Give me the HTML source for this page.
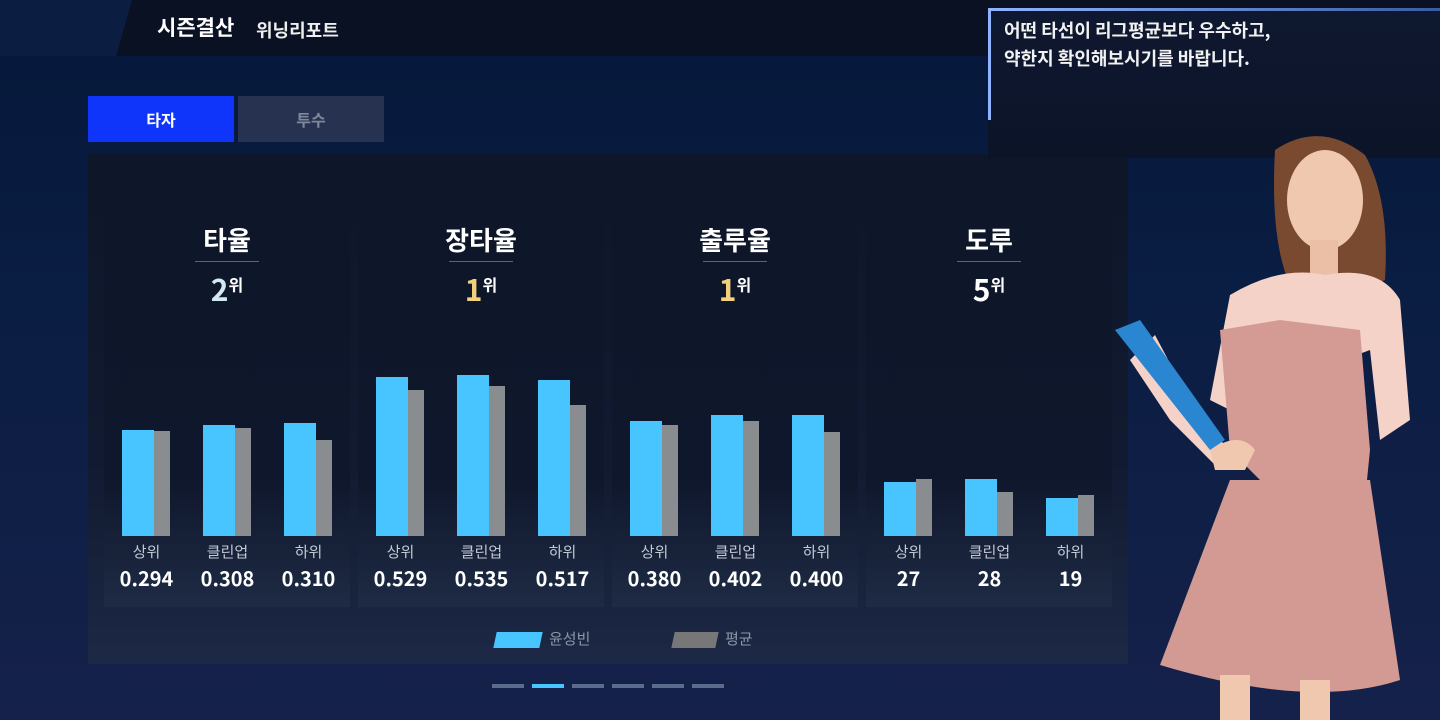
<!DOCTYPE html>
<html><head><meta charset="utf-8"><style>
*{margin:0;padding:0;box-sizing:border-box}
body{width:1440px;height:720px;overflow:hidden;position:relative;font-family:"Noto Sans CJK KR","Liberation Sans",sans-serif;line-height:1.2;background:linear-gradient(#05183a 0%,#0a1d42 40%,#15214a 100%);color:#fff}
.abs{position:absolute}
.panel{position:absolute;top:180px;width:246px;height:427px;background:linear-gradient(#0e1629 0%,#0f172c 70%,#1e2b44 100%)}
.t{position:absolute;left:0;width:246px;text-align:center}
.bar{position:absolute;bottom:71px}
.lab{position:absolute;top:363px;width:81px;text-align:center;font-size:15px;color:#c3cad6}
.val{position:absolute;top:386px;width:81px;text-align:center;font-size:20px;font-weight:bold;color:#fff}
</style></head><body>
<div class="abs" style="left:0;top:0;width:1440px;height:56px;background:#0a1122"></div>
<div class="abs" style="left:0;top:0;width:132px;height:56px;background:#0c1d42;clip-path:polygon(0 0,100% 0,88% 100%,0 100%)"></div>
<div class="abs" style="left:157px;top:15px;font-size:21px;font-weight:bold">시즌결산</div>
<div class="abs" style="left:256px;top:20px;font-size:18px;font-weight:bold;color:#eee">위닝리포트</div>
<div class="abs" style="left:88px;top:96px;width:146px;height:46px;background:#0f35fa;text-align:center;line-height:46px;font-size:16px;font-weight:bold">타자</div>
<div class="abs" style="left:238px;top:96px;width:146px;height:46px;background:#26324f;text-align:center;line-height:46px;font-size:16px;font-weight:bold;color:#7f879a">투수</div>
<div class="abs" style="left:88px;top:154px;width:1040px;height:510px;background:linear-gradient(#0e1629 0%,#111a30 60%,#1c2845 100%)"></div>

<div class="abs" style="left:988px;top:8px;width:452px;height:150px;background:linear-gradient(#0e1830,#0c1428);border-top:3px solid #6c94d8;border-left:3px solid #6c94d8;border-image:linear-gradient(90deg,#8fb3ff,#3a5ca0) 1"></div>
<div class="abs" style="left:988px;top:120px;width:3px;height:40px;background:#0c1428"></div>
<div class="abs" style="left:1004px;top:16px;font-size:18px;font-weight:bold;line-height:28px;color:#f2f2f2">어떤 타선이 리그평균보다 우수하고,<br>약한지 확인해보시기를 바랍니다.</div>

<div class="panel" style="left:104px">
<div class="t" style="top:44px;font-size:26px;font-weight:bold">타율</div>
<div class="abs" style="left:91px;top:81px;width:64px;height:1px;background:#5a6478"></div>
<div class="t" style="top:90px;font-size:30px;font-weight:bold;color:#d2e9f2">2<span style="font-size:16px;vertical-align:10px;color:#fff">위</span></div>
<div class="bar" style="left:18px;width:32px;height:106px;background:#48c4ff"></div><div class="bar" style="left:50px;width:16px;height:105px;background:#8a8d90"></div>
<div class="bar" style="left:99px;width:32px;height:111px;background:#48c4ff"></div><div class="bar" style="left:131px;width:16px;height:108px;background:#8a8d90"></div>
<div class="bar" style="left:180px;width:32px;height:113px;background:#48c4ff"></div><div class="bar" style="left:212px;width:16px;height:96px;background:#8a8d90"></div>
<div class="lab" style="left:2px">상위</div><div class="lab" style="left:83px">클린업</div><div class="lab" style="left:164px">하위</div>
<div class="val" style="left:2px">0.294</div><div class="val" style="left:83px">0.308</div><div class="val" style="left:164px">0.310</div>
</div>
<div class="panel" style="left:358px">
<div class="t" style="top:44px;font-size:26px;font-weight:bold">장타율</div>
<div class="abs" style="left:91px;top:81px;width:64px;height:1px;background:#5a6478"></div>
<div class="t" style="top:90px;font-size:30px;font-weight:bold;color:#f3d17c">1<span style="font-size:16px;vertical-align:10px;color:#fff">위</span></div>
<div class="bar" style="left:18px;width:32px;height:159px;background:#48c4ff"></div><div class="bar" style="left:50px;width:16px;height:146px;background:#8a8d90"></div>
<div class="bar" style="left:99px;width:32px;height:161px;background:#48c4ff"></div><div class="bar" style="left:131px;width:16px;height:150px;background:#8a8d90"></div>
<div class="bar" style="left:180px;width:32px;height:156px;background:#48c4ff"></div><div class="bar" style="left:212px;width:16px;height:131px;background:#8a8d90"></div>
<div class="lab" style="left:2px">상위</div><div class="lab" style="left:83px">클린업</div><div class="lab" style="left:164px">하위</div>
<div class="val" style="left:2px">0.529</div><div class="val" style="left:83px">0.535</div><div class="val" style="left:164px">0.517</div>
</div>
<div class="panel" style="left:612px">
<div class="t" style="top:44px;font-size:26px;font-weight:bold">출루율</div>
<div class="abs" style="left:91px;top:81px;width:64px;height:1px;background:#5a6478"></div>
<div class="t" style="top:90px;font-size:30px;font-weight:bold;color:#f3d17c">1<span style="font-size:16px;vertical-align:10px;color:#fff">위</span></div>
<div class="bar" style="left:18px;width:32px;height:115px;background:#48c4ff"></div><div class="bar" style="left:50px;width:16px;height:111px;background:#8a8d90"></div>
<div class="bar" style="left:99px;width:32px;height:121px;background:#48c4ff"></div><div class="bar" style="left:131px;width:16px;height:115px;background:#8a8d90"></div>
<div class="bar" style="left:180px;width:32px;height:121px;background:#48c4ff"></div><div class="bar" style="left:212px;width:16px;height:104px;background:#8a8d90"></div>
<div class="lab" style="left:2px">상위</div><div class="lab" style="left:83px">클린업</div><div class="lab" style="left:164px">하위</div>
<div class="val" style="left:2px">0.380</div><div class="val" style="left:83px">0.402</div><div class="val" style="left:164px">0.400</div>
</div>
<div class="panel" style="left:866px">
<div class="t" style="top:44px;font-size:26px;font-weight:bold">도루</div>
<div class="abs" style="left:91px;top:81px;width:64px;height:1px;background:#5a6478"></div>
<div class="t" style="top:90px;font-size:30px;font-weight:bold;color:#fff">5<span style="font-size:16px;vertical-align:10px;color:#fff">위</span></div>
<div class="bar" style="left:18px;width:32px;height:54px;background:#48c4ff"></div><div class="bar" style="left:50px;width:16px;height:57px;background:#8a8d90"></div>
<div class="bar" style="left:99px;width:32px;height:57px;background:#48c4ff"></div><div class="bar" style="left:131px;width:16px;height:44px;background:#8a8d90"></div>
<div class="bar" style="left:180px;width:32px;height:38px;background:#48c4ff"></div><div class="bar" style="left:212px;width:16px;height:41px;background:#8a8d90"></div>
<div class="lab" style="left:2px">상위</div><div class="lab" style="left:83px">클린업</div><div class="lab" style="left:164px">하위</div>
<div class="val" style="left:2px">27</div><div class="val" style="left:83px">28</div><div class="val" style="left:164px">19</div>
</div>

<div class="abs" style="left:495px;top:632px;width:46px;height:16px;background:#48c4ff;transform:skewX(-12deg)"></div>
<div class="abs" style="left:549px;top:630px;font-size:15px;color:#8e97a8">윤성빈</div>
<div class="abs" style="left:673px;top:632px;width:44px;height:16px;background:#777;transform:skewX(-12deg)"></div>
<div class="abs" style="left:725px;top:630px;font-size:15px;color:#8e97a8">평균</div>
<div class="abs" style="left:492px;top:684px;width:32px;height:4px;background:#5a6b8c"></div>
<div class="abs" style="left:532px;top:684px;width:32px;height:4px;background:#48c4ff"></div>
<div class="abs" style="left:572px;top:684px;width:32px;height:4px;background:#5a6b8c"></div>
<div class="abs" style="left:612px;top:684px;width:32px;height:4px;background:#5a6b8c"></div>
<div class="abs" style="left:652px;top:684px;width:32px;height:4px;background:#5a6b8c"></div>
<div class="abs" style="left:692px;top:684px;width:32px;height:4px;background:#5a6b8c"></div>

<svg class="abs" style="left:1080px;top:120px" width="360" height="600" viewBox="0 0 360 600">
<path d="M195 30 Q240 0 285 35 Q310 80 305 160 L280 170 L210 165 Q190 120 195 30Z" fill="#7a4a30"/>
<ellipse cx="245" cy="80" rx="38" ry="50" fill="#f0c8b0"/>
<rect x="230" y="120" width="28" height="40" fill="#ebbfa5"/>
<path d="M150 175 Q200 145 245 155 Q300 145 320 180 L330 300 L300 320 L290 230 Q240 250 200 230 L170 300 L130 280Z" fill="#f4d2c8"/>
<path d="M50 240 L75 215 L120 300 L150 330 L140 350 L90 300Z" fill="#f4d2c8"/>
<path d="M140 210 L200 200 L280 210 L290 330 L285 380 L200 380 L150 330Z" fill="#d49a94"/>
<path d="M150 360 L290 360 L320 560 Q230 590 80 545Z" fill="#d39993"/>
<path d="M35 210 L60 200 L145 320 L130 330Z" fill="#2a86d0"/>
<path d="M130 330 Q160 310 175 330 L165 350 L135 350Z" fill="#f0c8b0"/>
<rect x="140" y="555" width="30" height="45" fill="#f0c8b0"/>
<rect x="220" y="560" width="30" height="40" fill="#f0c8b0"/>
</svg>
</body></html>
